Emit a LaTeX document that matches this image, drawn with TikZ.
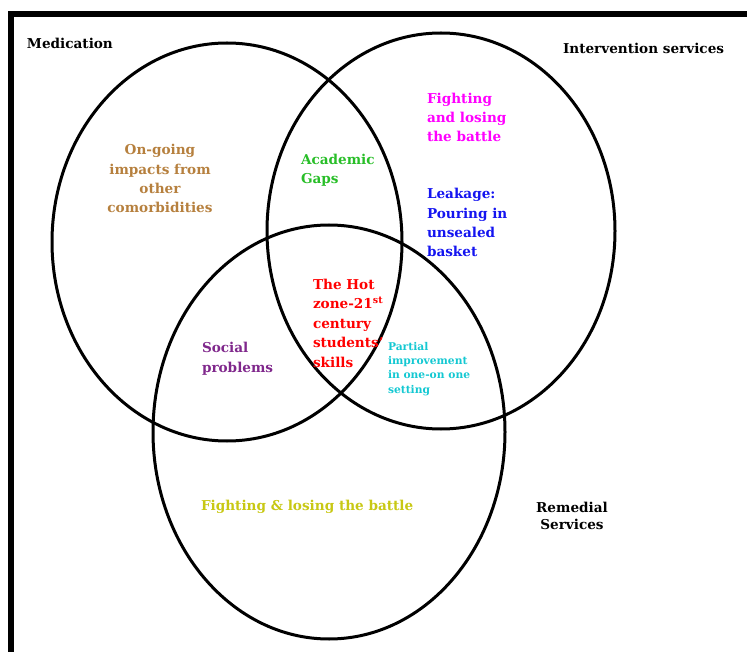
\documentclass[tikz,border=0pt]{standalone}
\usepackage{fontspec}
\setmainfont{DejaVu Serif}
\definecolor{cbrown}{RGB}{182,128,62}
\definecolor{cgreen}{RGB}{40,190,40}
\definecolor{cmag}{RGB}{255,0,255}
\definecolor{cblue}{RGB}{20,20,240}
\definecolor{cred}{RGB}{255,0,0}
\definecolor{ccyan}{RGB}{20,200,210}
\definecolor{cpurp}{RGB}{128,40,140}
\definecolor{cyel}{RGB}{200,200,20}
\tikzset{
  ring/.style={line width=3pt, draw=black},
  lbl/.style={font=\fontsize{13.6}{19.4}\selectfont\bfseries, inner sep=0pt, outer sep=0pt, align=left, anchor=base west},
  small/.style={font=\fontsize{10.7}{14.3}\selectfont\bfseries, inner sep=0pt, outer sep=0pt, align=left, anchor=base west},
}
\begin{document}
\begin{tikzpicture}[x=1pt,y=-1pt]
\useasboundingbox (0,0) rectangle (747,652);
% border
\draw[line width=6pt] (11,652) -- (11,14) -- (747,14);
% circles
\draw[ring] (227,242) ellipse [x radius=175pt, y radius=199pt];
\draw[ring] (441,231) ellipse [x radius=174pt, y radius=198pt];
\draw[ring] (329,432) ellipse [x radius=176pt, y radius=207pt];
% labels (base = baseline of the last line)
\node[lbl] (med) at (27,49) {Medication};
\node[lbl] (int) at (563,54) {Intervention services};
\node[lbl, text=cbrown, align=center, anchor=base] (ong) at (160,213) {On-going\\impacts from\\other\\comorbidities};
\node[lbl, text=cgreen] (acad) at (301,184) {Academic\\Gaps};
\node[lbl, text=cmag] (fight1) at (427,142) {Fighting\\and losing\\the battle};
\node[lbl, text=cblue] (leak) at (427,257) {Leakage:\\Pouring in\\unsealed\\basket};
\node[lbl, text=cred] (hot) at (313,367) {The Hot\\zone-21\textsuperscript{st}\\century\\students'\\skills};
\node[small, text=ccyan] (part) at (388,393) {Partial\\improvement\\in one-on one\\setting};
\node[lbl, text=cpurp] (soc) at (202,372) {Social\\problems};
\node[lbl, text=cyel] (fight2) at (201,510) {Fighting \& losing the battle};
\node[lbl, align=center, anchor=base, font=\fontsize{13.6}{17}\selectfont\bfseries] (rem) at (572,529) {Remedial\\Services};
\end{tikzpicture}
\end{document}
